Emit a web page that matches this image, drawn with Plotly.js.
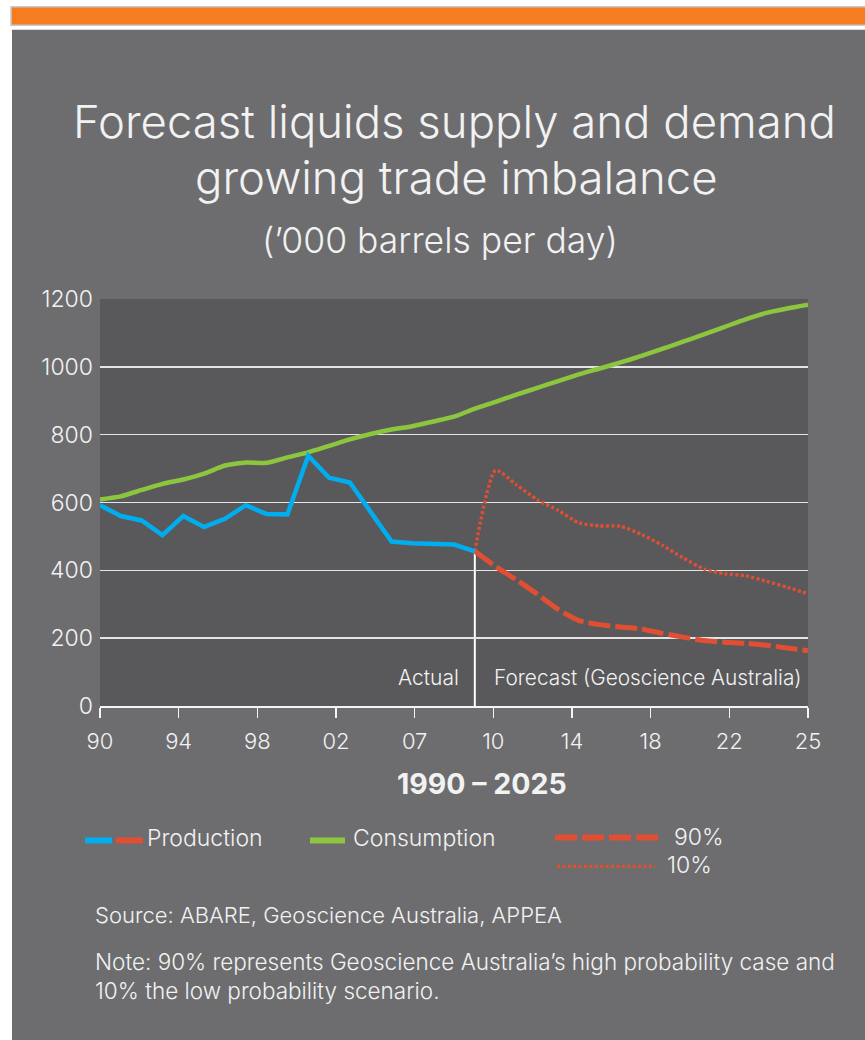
<!DOCTYPE html>
<html>
<head>
<meta charset="utf-8">
<script src="https://cdn.plot.ly/plotly-3.0.1.min.js"></script>
<style>
  html, body { margin: 0; padding: 0; background: #ffffff; }
  #chart { width: 865px; height: 1040px; }
</style>
</head>
<body>
<div id="chart"></div>
<script>
// ---------------- DATA ----------------
const years = [1990, 1991, 1992, 1993, 1994, 1995, 1996, 1997, 1998, 1999,
               2000, 2001, 2002, 2003, 2004, 2005, 2006, 2007, 2008, 2009,
               2010, 2011, 2012, 2013, 2014, 2015, 2016, 2017, 2018, 2019,
               2020, 2021, 2022, 2023, 2024];
const actualYears = [1990, 1991, 1992, 1993, 1994, 1995, 1996, 1997, 1998, 1999,
                     2000, 2001, 2002, 2003, 2004, 2005, 2006, 2007, 2008];
const forecastYears = [2008, 2009, 2010, 2011, 2012, 2013, 2014, 2015, 2016, 2017,
                       2018, 2019, 2020, 2021, 2022, 2023, 2024];

const production = [592, 560, 547, 504, 560, 528, 552, 592, 566, 565,
                    738, 673, 659, 572, 485, 480, 478, 476, 456];
const consumption = [609, 618, 637, 655, 668, 685, 709, 718, 717, 733,
                     748, 767, 786, 802, 815, 825, 839, 853, 877, 897,
                     918, 938, 958, 978, 995, 1013, 1032, 1053, 1074, 1096,
                     1118, 1140, 1159, 1172, 1183];
const forecast90 = [456, 411, 372, 330, 285, 252, 240, 233, 227, 214,
                    203, 193, 188, 185, 179, 171, 163];
const forecast10 = [456, 695, 652, 608, 577, 540, 531, 530, 506, 474,
                    437, 404, 390, 384, 368, 350, 331];

const tickLabels = ['90', '94', '98', '02', '07', '10', '14', '18', '22', '25'];
const yTicks = [0, 200, 400, 600, 800, 1000, 1200];
const dividerYear = 2008;

const titleLines = ['Forecast liquids supply and demand', 'growing trade imbalance'];
const subtitle = "(’000 barrels per day)";
const xTitle = '1990 – 2025';
const sourceText = 'Source: ABARE, Geoscience Australia, APPEA';
const noteText = 'Note: 90% represents Geoscience Australia’s high probability case and<br>10% the low probability scenario.';

// ---------------- STYLE ----------------
const C_BLUE = '#00adee';
const C_GREEN = '#8cc63e';
const C_RED = '#e04f32';
const C_PANEL = '#6d6d6f';
const C_PLOT = '#59595b';
const C_TEXT = '#f2f2f2';
const FONT = 'Inter, "Open Sans", "DejaVu Sans", sans-serif';

// plot-area pixel geometry
const L = 100, R = 808, T = 299, B = 705.7;
const px = x => (x - L) / (R - L);
const py = y => (B - y) / (B - T);

const x0 = years[0], x1 = years[years.length - 1];
const tickVals = tickLabels.map((_, k) => x0 + k * (x1 - x0) / (tickLabels.length - 1));

const traces = [
  { x: years, y: consumption, type: 'scatter', mode: 'lines',
    line: { color: C_GREEN, width: 4.5, shape: 'spline', smoothing: 0.5 }, hoverinfo: 'skip' },
  { x: forecastYears, y: forecast10, type: 'scatter', mode: 'lines',
    line: { color: C_RED, width: 3.4, dash: '3px,2.4px', shape: 'spline', smoothing: 0.6 }, hoverinfo: 'skip' },
  { x: forecastYears, y: forecast90, type: 'scatter', mode: 'lines',
    line: { color: C_RED, width: 5, dash: '22px,5px', shape: 'spline', smoothing: 0.6 }, hoverinfo: 'skip' },
  { x: actualYears, y: production, type: 'scatter', mode: 'lines',
    line: { color: C_BLUE, width: 4.5 }, hoverinfo: 'skip' }
];

const textFont = (size, extra) => Object.assign({ family: FONT, size: size, color: C_TEXT, weight: 300 }, extra || {});

const annotations = [
  { text: titleLines[0], x: px(455), y: py(122), font: textFont(45.5) },
  { text: titleLines[1], x: px(456), y: py(178), font: textFont(45.5) },
  { text: subtitle, x: px(440), y: py(241), font: textFont(35.5) },
  { text: '<b>' + xTitle + '</b>', x: px(482), y: py(783), font: textFont(28.5, { weight: 700 }) },
  { text: 'Actual', xref: 'x', yref: 'paper', x: dividerYear, y: py(677), xanchor: 'right', xshift: -14, font: textFont(21) },
  { text: 'Forecast (Geoscience Australia)', xref: 'x', yref: 'paper', x: dividerYear, y: py(677), xanchor: 'left', xshift: 17, font: textFont(20.8) },
  // legend labels
  { text: 'Production', x: px(145), y: py(838), xanchor: 'left', font: textFont(23) },
  { text: 'Consumption', x: px(351), y: py(838), xanchor: 'left', font: textFont(23) },
  { text: '90%', x: px(672), y: py(837), xanchor: 'left', font: textFont(23) },
  { text: '10%', x: px(665), y: py(865), xanchor: 'left', font: textFont(23) },
  // notes
  { text: sourceText, x: px(93), y: py(915), xanchor: 'left', font: textFont(22) },
  { text: noteText, x: px(93), y: py(975.5), xanchor: 'left', align: 'left', font: textFont(22.5) }
].map(a => Object.assign({ xref: 'paper', yref: 'paper', showarrow: false, yanchor: 'middle', xanchor: 'center' }, a));

const pline = (xa, xb, y, color, width, dash) => ({
  type: 'line', xref: 'paper', yref: 'paper', x0: px(xa), x1: px(xb), y0: py(y), y1: py(y),
  line: { color: color, width: width, dash: dash || 'solid' }, layer: 'above'
});

const shapes = [
  // white page margins around the panel
  { type: 'rect', xref: 'paper', yref: 'paper', x0: px(0), x1: px(865), y0: py(0), y1: py(30),
    fillcolor: '#ffffff', line: { width: 0 }, layer: 'below' },
  { type: 'rect', xref: 'paper', yref: 'paper', x0: px(0), x1: px(12), y0: py(0), y1: py(1040),
    fillcolor: '#ffffff', line: { width: 0 }, layer: 'below' },
  // orange banner
  { type: 'rect', xref: 'paper', yref: 'paper', x0: px(11), x1: px(866), y0: py(7), y1: py(25.5),
    fillcolor: '#f47d20', line: { color: '#c9c9c9', width: 1.5 }, layer: 'below' },
  // divider actual / forecast
  { type: 'line', xref: 'x', yref: 'y', x0: dividerYear, x1: dividerYear, y0: 0,
    y1: production[production.length - 1], line: { color: '#ffffff', width: 2 }, layer: 'below' },
  // legend swatches
  pline(85, 112, 840, C_BLUE, 6),
  pline(116, 143, 840, C_RED, 6),
  pline(310, 345, 840, C_GREEN, 6),
  pline(555, 660, 837, C_RED, 6, '22px,5px'),
  pline(557, 655, 866, C_RED, 3.4, '3px,2.4px')
];

const layout = {
  width: 865, height: 1040,
  margin: { l: L, r: 865 - R, t: T, b: 1040 - B, pad: 0 },
  paper_bgcolor: C_PANEL,
  plot_bgcolor: C_PLOT,
  showlegend: false,
  font: { family: FONT, color: C_TEXT },
  xaxis: {
    range: [x0, x1], tickvals: tickVals, ticktext: tickLabels,
    showgrid: false, zeroline: false,
    showline: true, linecolor: '#f4f4f4', linewidth: 2,
    ticks: 'outside', ticklen: 10, tickwidth: 1.5, tickcolor: '#f4f4f4',
    tickfont: { family: FONT, size: 22, color: C_TEXT, weight: 300 },
    ticklabelstandoff: 5,
    automargin: false, fixedrange: true
  },
  yaxis: {
    range: [0, 1200], tickvals: yTicks,
    showgrid: true, gridcolor: '#e4e4e4', gridwidth: 1.5,
    zeroline: false, showline: false, ticks: '',
    tickfont: { family: FONT, size: 23, color: C_TEXT, weight: 300 },
    ticklabelstandoff: 6,
    automargin: false, fixedrange: true
  },
  annotations: annotations,
  shapes: shapes
};

Plotly.newPlot('chart', traces, layout, { staticPlot: true, displayModeBar: false });
</script>
</body>
</html>
